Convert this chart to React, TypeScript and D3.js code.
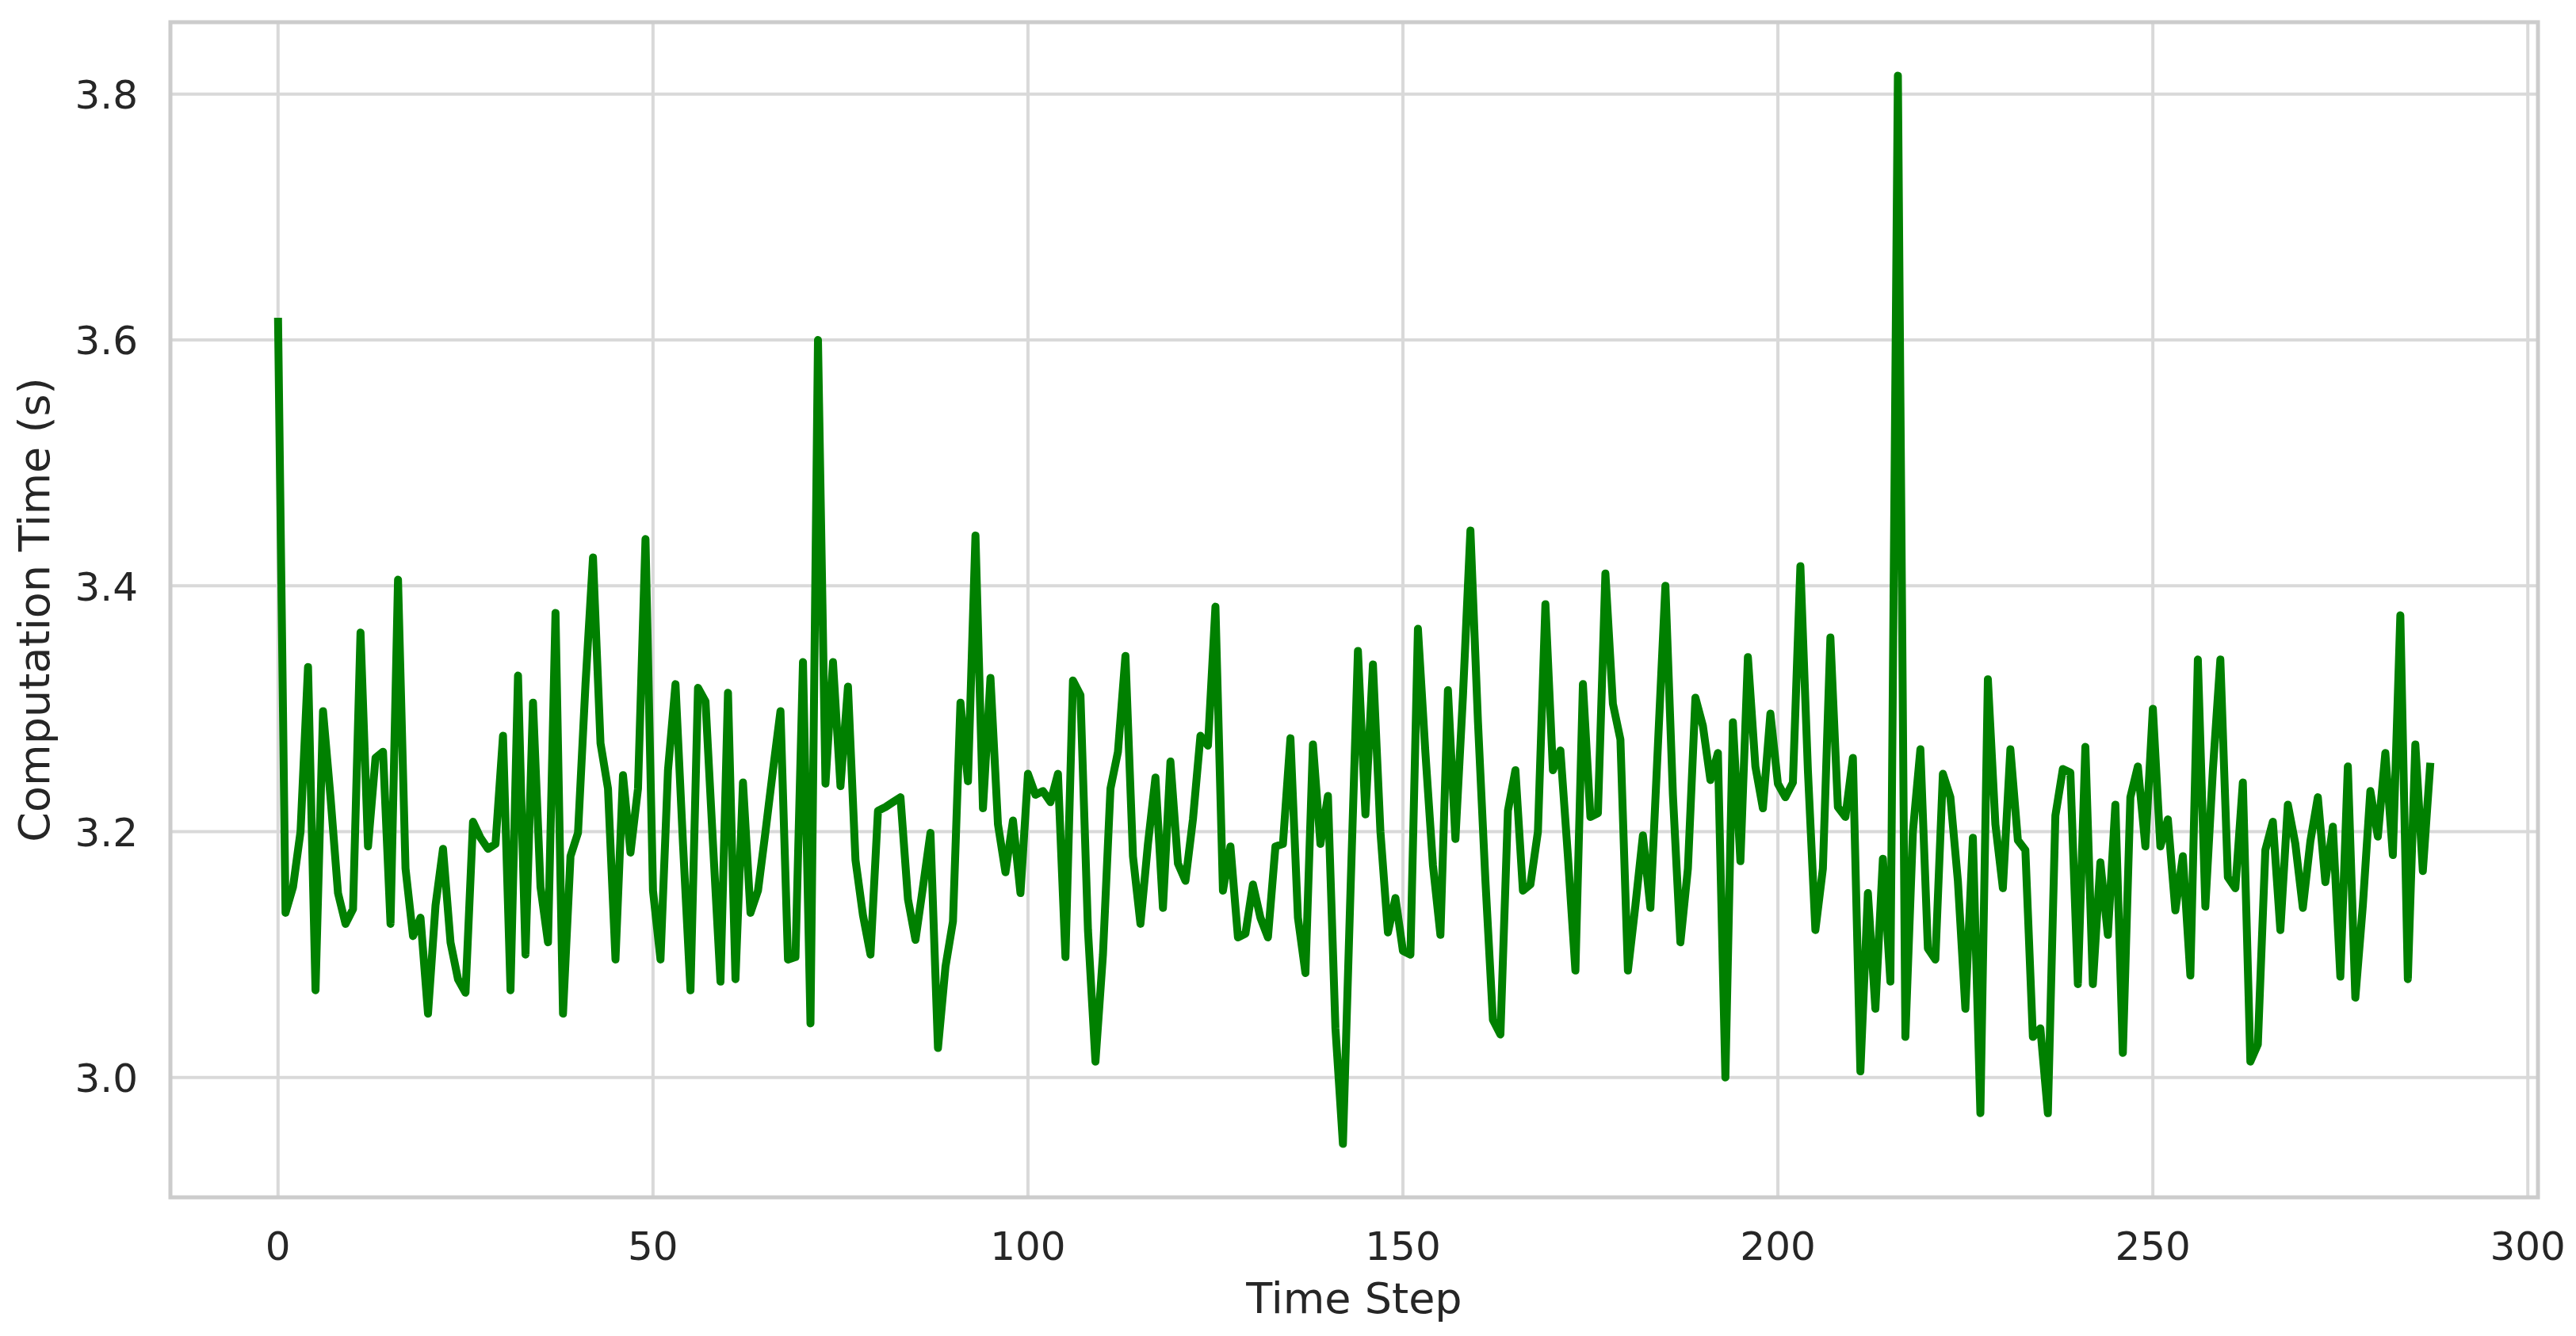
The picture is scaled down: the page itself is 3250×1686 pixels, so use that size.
import React from "react";
import * as d3 from "d3";

const timeSteps: number[] = Array.from({ length: 288 }, (_, i) => i);

const computationTime: number[] = [
  3.618, 3.134, 3.155, 3.2, 3.334, 3.071, 3.298, 3.228, 3.15, 3.125,
  3.137, 3.362, 3.188, 3.26, 3.265, 3.125, 3.405, 3.17, 3.115, 3.13,
  3.052, 3.14, 3.186, 3.11, 3.08, 3.069, 3.208, 3.195, 3.186, 3.19,
  3.278, 3.071, 3.327, 3.1, 3.305, 3.155, 3.11, 3.378, 3.052, 3.18,
  3.199, 3.32, 3.423, 3.272, 3.235, 3.096, 3.246, 3.183, 3.235, 3.438,
  3.152, 3.096, 3.25, 3.32, 3.19, 3.071, 3.317, 3.306, 3.19, 3.078,
  3.313, 3.08, 3.24, 3.134, 3.152, 3.2, 3.25, 3.298, 3.096, 3.098,
  3.338, 3.044, 3.6, 3.239, 3.338, 3.237, 3.318, 3.177, 3.132, 3.1,
  3.217, 3.22, 3.224, 3.228, 3.145, 3.112, 3.155, 3.199, 3.024, 3.09,
  3.127, 3.305, 3.241, 3.441, 3.219, 3.325, 3.206, 3.167, 3.209, 3.15,
  3.247, 3.23, 3.233, 3.224, 3.247, 3.098, 3.323, 3.311, 3.12, 3.013,
  3.1, 3.235, 3.265, 3.343, 3.18, 3.125, 3.19, 3.244, 3.138, 3.257,
  3.174, 3.16, 3.21, 3.278, 3.27, 3.383, 3.152, 3.188, 3.114, 3.117,
  3.157, 3.13, 3.114, 3.188, 3.19, 3.276, 3.13, 3.085, 3.271, 3.19,
  3.229, 3.04, 2.946, 3.15, 3.347, 3.214, 3.336, 3.2, 3.118, 3.146,
  3.103, 3.1, 3.365, 3.264, 3.173, 3.116, 3.315, 3.194, 3.31, 3.445,
  3.29, 3.16, 3.047, 3.035, 3.217, 3.25, 3.152, 3.157, 3.2, 3.385,
  3.25, 3.266, 3.18, 3.087, 3.32, 3.212, 3.215, 3.41, 3.304, 3.275,
  3.087, 3.14, 3.197, 3.138, 3.27, 3.4, 3.23, 3.11, 3.17, 3.309,
  3.286, 3.242, 3.264, 3.0, 3.289, 3.176, 3.342, 3.253, 3.219, 3.296,
  3.239, 3.228, 3.24, 3.416, 3.25, 3.12, 3.17, 3.358, 3.22, 3.212,
  3.26, 3.005, 3.15, 3.056, 3.178, 3.078, 3.815, 3.033, 3.2, 3.267,
  3.105, 3.096, 3.247, 3.228, 3.16, 3.056, 3.195, 2.971, 3.324, 3.206,
  3.154, 3.267, 3.193, 3.185, 3.033, 3.04, 2.971, 3.213, 3.251, 3.248,
  3.076, 3.269, 3.076, 3.175, 3.116, 3.222, 3.02, 3.228, 3.253, 3.188,
  3.3, 3.188, 3.21, 3.136, 3.18, 3.083, 3.34, 3.139, 3.25, 3.34,
  3.163, 3.154, 3.24, 3.013, 3.027, 3.185, 3.208, 3.12, 3.222, 3.19,
  3.138, 3.192, 3.228, 3.159, 3.204, 3.082, 3.253, 3.065, 3.14, 3.233,
  3.196, 3.264, 3.181, 3.376, 3.08, 3.271, 3.168, 3.256,
];

const xTicks: number[] = [0, 50, 100, 150, 200, 250, 300];
const yTicks: number[] = [3.0, 3.2, 3.4, 3.6, 3.8];
const xLabel = "Time Step";
const yLabel = "Computation Time (s)";

const W = 3250;
const H = 1686;
const plot = { left: 215, right: 3202, top: 28, bottom: 1511 };
const FONT = "'DejaVu Sans', sans-serif";
const TEXT = "#262626";
const GRID = "#d9d9d9";
const SPINE = "#cccccc";

export default function App() {
  const xMin = d3.min(timeSteps)!;
  const xMax = d3.max(timeSteps)!;
  const xPad = (xMax - xMin) * 0.05;
  const yMin = d3.min(computationTime)!;
  const yMax = d3.max(computationTime)!;
  const yPad = (yMax - yMin) * 0.05;

  const x = d3.scaleLinear().domain([xMin - xPad, xMax + xPad]).range([plot.left, plot.right]);
  const y = d3.scaleLinear().domain([yMin - yPad, yMax + yPad]).range([plot.bottom, plot.top]);

  const line = d3
    .line<number>()
    .x((_, i) => x(timeSteps[i]))
    .y((d) => y(d));

  const path = line(computationTime) || "";

  return (
    <svg
      width={W}
      height={H}
      style={{ position: "absolute", left: 0, top: 0, display: "block", background: "#fff" }}
      fontFamily={FONT}
    >
      <rect x={0} y={0} width={W} height={H} fill="#fff" />
      {/* grid */}
      {xTicks.map((t) => (
        <line key={"gx" + t} x1={x(t)} x2={x(t)} y1={plot.top} y2={plot.bottom} stroke={GRID} strokeWidth={4} />
      ))}
      {yTicks.map((t) => (
        <line key={"gy" + t} x1={plot.left} x2={plot.right} y1={y(t)} y2={y(t)} stroke={GRID} strokeWidth={4} />
      ))}
      {/* data line */}
      <path d={path} fill="none" stroke="#008000" strokeWidth={10} strokeLinejoin="round" strokeLinecap="butt" />
      {/* spines */}
      <rect
        x={plot.left}
        y={plot.top}
        width={plot.right - plot.left}
        height={plot.bottom - plot.top}
        fill="none"
        stroke={SPINE}
        strokeWidth={5}
      />
      {/* tick labels */}
      {xTicks.map((t) => (
        <text key={"tx" + t} x={x(t)} y={1590} fontSize={50} fill={TEXT} textAnchor="middle">
          {String(t)}
        </text>
      ))}
      {yTicks.map((t) => (
        <text key={"ty" + t} x={174} y={y(t) + 18.5} fontSize={50} fill={TEXT} textAnchor="end">
          {t.toFixed(1)}
        </text>
      ))}
      {/* axis labels */}
      <text x={(plot.left + plot.right) / 2} y={1657} fontSize={54} fill={TEXT} textAnchor="middle">
        {xLabel}
      </text>
      <text
        transform={`translate(62, ${(plot.top + plot.bottom) / 2}) rotate(-90)`}
        fontSize={54}
        fill={TEXT}
        textAnchor="middle"
      >
        {yLabel}
      </text>
    </svg>
  );
}
